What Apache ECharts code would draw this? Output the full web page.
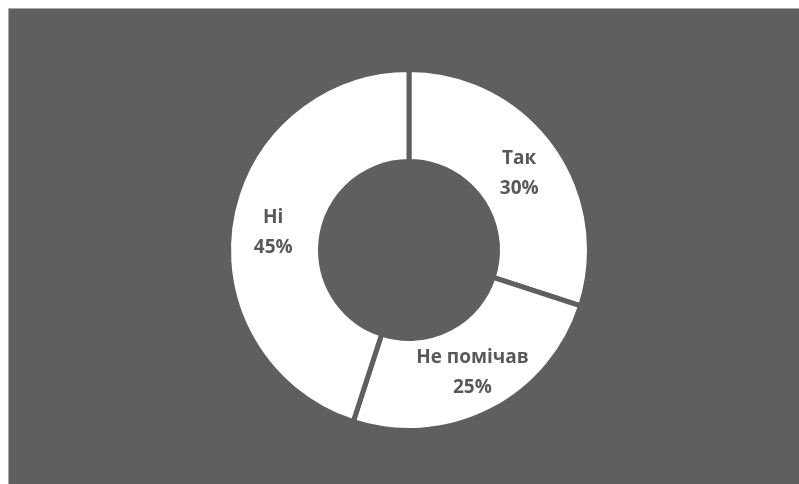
<!DOCTYPE html>
<html>
<head>
<meta charset="utf-8">
<script src="https://cdn.jsdelivr.net/npm/echarts@6/dist/echarts.min.js"></script>
<style>
  html, body { margin: 0; padding: 0; background: #ffffff; }
  #chart { width: 799px; height: 484px; }
</style>
</head>
<body>
<div id="chart"></div>
<script>
// Survey answers and their shares
const categories = ['Так', 'Не помічав', 'Ні'];
const shares = [30, 25, 45];

const BG = '#5f5f5f';
const TEXT = '#595959';

// Per-slice nudges for the inside labels
const labelOffsets = {
  'Так': [-1, 4],
  'Не помічав': [1, 0],
  'Ні': [0, 4]
};

const chart = echarts.init(document.getElementById('chart'), null, { renderer: 'canvas' });

chart.setOption({
  animation: false,
  backgroundColor: '#ffffff',
  graphic: [{
    type: 'rect',
    z: -10,
    shape: { x: 8.5, y: 8.5, width: 800, height: 480 },
    style: { fill: BG, stroke: '#a6a6a6', lineWidth: 1 }
  }],
  series: [{
    type: 'pie',
    center: [409, 250],
    radius: [88.5, 180.5],
    startAngle: 90,
    clockwise: true,
    avoidLabelOverlap: false,
    itemStyle: { color: '#ffffff', borderColor: BG, borderWidth: 5 },
    label: {
      show: true,
      position: 'inside',
      formatter: '{b}\n{d}%',
      color: TEXT,
      fontFamily: 'Open Sans',
      fontWeight: 'bold',
      fontSize: 19,
      lineHeight: 30
    },
    labelLine: { show: false },
    emphasis: { disabled: true },
    data: categories.map((name, i) => ({
      name: name,
      value: shares[i],
      label: { offset: labelOffsets[name] }
    }))
  }]
});
</script>
</body>
</html>
